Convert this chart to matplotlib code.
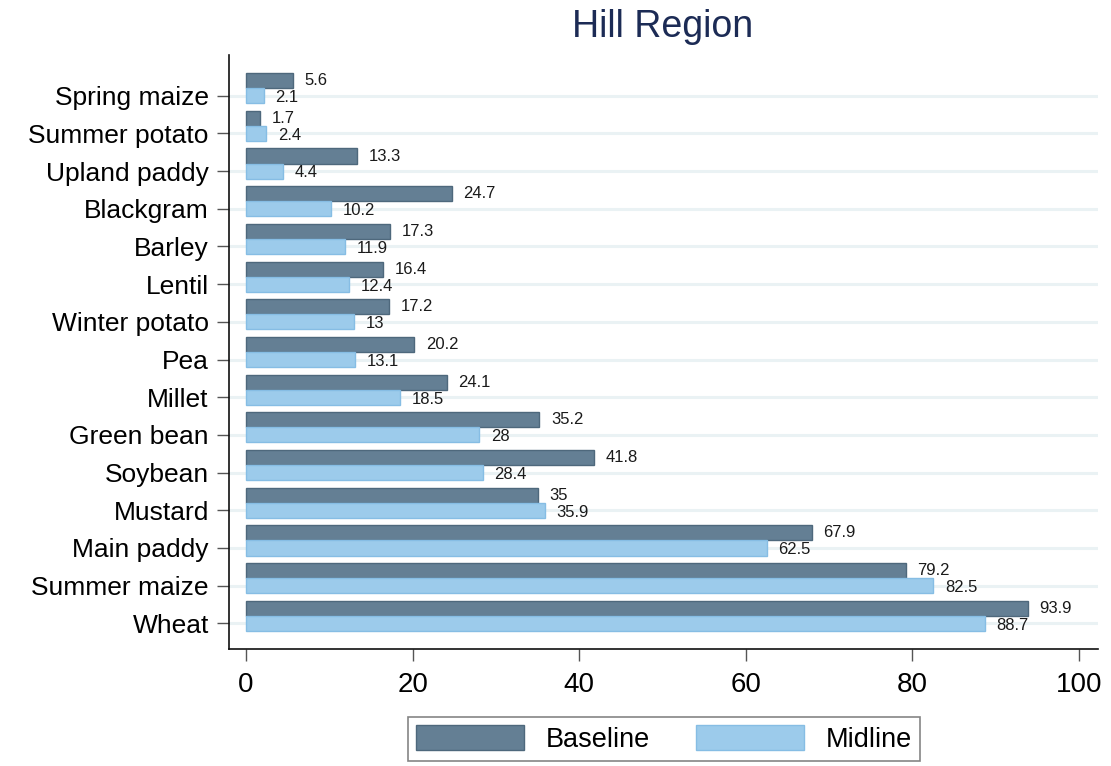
import matplotlib
matplotlib.use("Agg")
import matplotlib.pyplot as plt
import numpy as np

categories = ["Spring maize", "Summer potato", "Upland paddy", "Blackgram", "Barley",
              "Lentil", "Winter potato", "Pea", "Millet", "Green bean", "Soybean",
              "Mustard", "Main paddy", "Summer maize", "Wheat"]
baseline = [5.6, 1.7, 13.3, 24.7, 17.3, 16.4, 17.2, 20.2, 24.1, 35.2, 41.8, 35, 67.9, 79.2, 93.9]
midline = [2.1, 2.4, 4.4, 10.2, 11.9, 12.4, 13, 13.1, 18.5, 28, 28.4, 35.9, 62.5, 82.5, 88.7]
baseline_labels = ["5.6", "1.7", "13.3", "24.7", "17.3", "16.4", "17.2", "20.2", "24.1",
                   "35.2", "41.8", "35", "67.9", "79.2", "93.9"]
midline_labels = ["2.1", "2.4", "4.4", "10.2", "11.9", "12.4", "13", "13.1", "18.5",
                  "28", "28.4", "35.9", "62.5", "82.5", "88.7"]
xticks = [0, 20, 40, 60, 80, 100]

plt.rcParams['font.family'] = ['Liberation Sans', 'DejaVu Sans']

fig = plt.figure(figsize=(11.11, 7.66), dpi=100)
W, H = 1111, 766
ax = fig.add_axes([229 / W, 1 - 649 / H, (1098 - 229) / W, (649 - 55) / H])

y = np.arange(len(categories))
h = 0.4
c_base = "#647f94"
e_base = "#4e687c"
c_mid = "#9ccbeb"
e_mid = "#86bde4"

for yy in y:
    ax.axhline(yy + h / 2, color="#eaf2f4", lw=2.2, zorder=0)

ax.barh(y - h / 2, baseline, height=h, color=c_base, edgecolor=e_base, lw=1, label="Baseline", zorder=2)
ax.barh(y + h / 2, midline, height=h, color=c_mid, edgecolor=e_mid, lw=1, label="Midline", zorder=2)

for yy, v, t in zip(y, baseline, baseline_labels):
    ax.text(v + 1.4, yy - h / 2, t, va="center", ha="left", fontsize=12, color="#1a1a1a", zorder=3)
for yy, v, t in zip(y, midline, midline_labels):
    ax.text(v + 1.4, yy + h / 2 + 0.05, t, va="center", ha="left", fontsize=12, color="#1a1a1a", zorder=3)

ax.set_xlim(-2.05, 102.3)
ax.set_ylim(len(categories) - 1 + 0.88, -0.88)
ax.set_yticks(y + h / 2)
ax.set_yticklabels(categories, fontsize=19)
ax.set_xticks(xticks)
ax.set_xticklabels([str(t) for t in xticks], fontsize=20)
ax.tick_params(axis='y', length=8.5, width=1, color="#555555", pad=6)
ax.tick_params(axis='x', length=8.5, width=1, color="#555555", pad=8)
for s in ["top", "right"]:
    ax.spines[s].set_visible(False)
for s in ["left", "bottom"]:
    ax.spines[s].set_linewidth(1.2)
    ax.spines[s].set_color("#111111")

fig.text(663 / W, 1 - 27 / H, "Hill Region", ha="center", va="center", fontsize=27, color="#1c2b55")

leg = fig.legend(loc="center", bbox_to_anchor=(664 / W, 1 - 739 / H), ncol=2, fontsize=19.5,
                 frameon=True, fancybox=False, handlelength=4.0, handleheight=1.0,
                 columnspacing=1.7, handletextpad=0.8, borderpad=0.3, borderaxespad=0)
leg.get_frame().set_edgecolor("#666666")
leg.get_frame().set_linewidth(1.2)

fig.savefig("out.png", dpi=100)
